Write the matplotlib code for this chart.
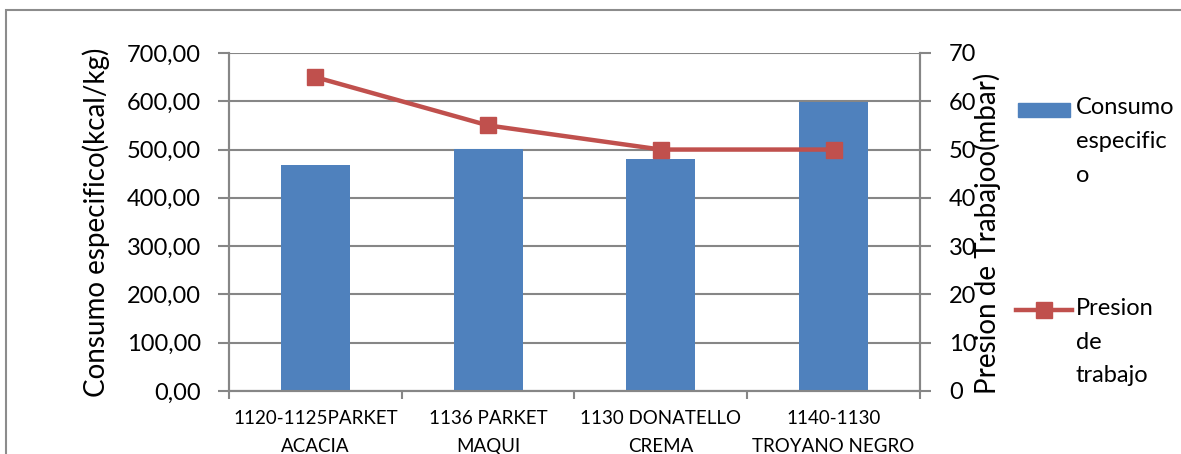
import matplotlib
matplotlib.use('Agg')
import matplotlib.pyplot as plt
from matplotlib.patches import Rectangle
from matplotlib.lines import Line2D
from matplotlib.ticker import FuncFormatter
import numpy as np

categories = ['1120-1125PARKET\nACACIA', '1136 PARKET\nMAQUI',
              '1130 DONATELLO\nCREMA', '1140-1130\nTROYANO NEGRO']
consumo = [468, 502, 481, 598]
presion = [65, 55, 50, 50]

bar_color = '#4F81BD'
line_color = '#C0504D'
grid_color = '#868686'

plt.rcParams['font.family'] = ['Lato', 'DejaVu Sans']

fig = plt.figure(figsize=(11.81, 4.54), dpi=100)
ax = fig.add_axes([0.1939, 0.1388, 0.779 - 0.1939, 0.8833 - 0.1388])
ax2 = ax.twinx()

x = np.arange(len(categories))
ax.bar(x, consumo, width=0.4, color=bar_color, zorder=3)
ax.set_xlim(-0.5, len(categories) - 0.5)
ax.set_ylim(0, 700)
ax.set_yticks(np.arange(0, 701, 100))
ax.yaxis.set_major_formatter(FuncFormatter(lambda v, p: ('%.2f' % v).replace('.', ',')))
ax.grid(axis='y', color=grid_color, linewidth=1.5, zorder=0)
ax.set_axisbelow(True)

ax.set_xticks(x)
ax.set_xticklabels(categories, fontsize=13.5, linespacing=1.76)
ax.set_xticks(np.arange(-0.5, len(categories), 1), minor=True)
ax.tick_params(axis='x', which='major', length=0, pad=14)
ax.tick_params(axis='x', which='minor', length=6, width=1.5, color=grid_color, direction='out')
ax.tick_params(axis='y', length=8, width=1.5, color=grid_color, labelsize=17, pad=12)

ax2.plot(x, presion, color=line_color, linewidth=3.2, marker='s', markersize=12, zorder=4)
ax2.set_ylim(0, 70)
ax2.set_yticks(np.arange(0, 71, 10))
ax2.tick_params(axis='y', length=8, width=1.5, color=grid_color, labelsize=17, pad=13)

for a in (ax, ax2):
    a.spines['top'].set_visible(False)
    for s in ('left', 'right', 'bottom'):
        a.spines[s].set_color(grid_color)
        a.spines[s].set_linewidth(1.5)

ax.set_ylabel('Consumo especifico(kcal/kg)', fontsize=20)
ax.yaxis.set_label_coords(-0.172, 0.5)
ax2.set_ylabel('Presion de Trabajoo(mbar)', fontsize=20, rotation=90)
ax2.yaxis.set_label_coords(1.077, 0.466)

# legend drawn in figure space
fig.patches.append(Rectangle((1018 / 1181, 1 - 117 / 454), 52 / 1181, 14 / 454,
                             transform=fig.transFigure, color=bar_color))
fig.text(1076 / 1181, 1 - 182 / 454, 'Consumo\nespecific\no', fontsize=17,
         va='baseline', ha='left', linespacing=1.75)
fig.lines.append(Line2D([1016 / 1181, 1072 / 1181], [1 - 310 / 454, 1 - 310 / 454],
                        transform=fig.transFigure, color=line_color, linewidth=3.2))
fig.lines.append(Line2D([1044 / 1181], [1 - 310 / 454], transform=fig.transFigure,
                        color=line_color, marker='s', markersize=12, ls='none'))
fig.text(1076 / 1181, 1 - 382 / 454, 'Presion\nde\ntrabajo', fontsize=17,
         va='baseline', ha='left', linespacing=1.73)

fig.patches.append(Rectangle((6 / 1181, -0.1), 1.2, 1.1 - 10 / 454, transform=fig.transFigure,
                             fill=False, edgecolor='#8c8c8c', linewidth=1.5))

fig.savefig('out.png', dpi=100)
